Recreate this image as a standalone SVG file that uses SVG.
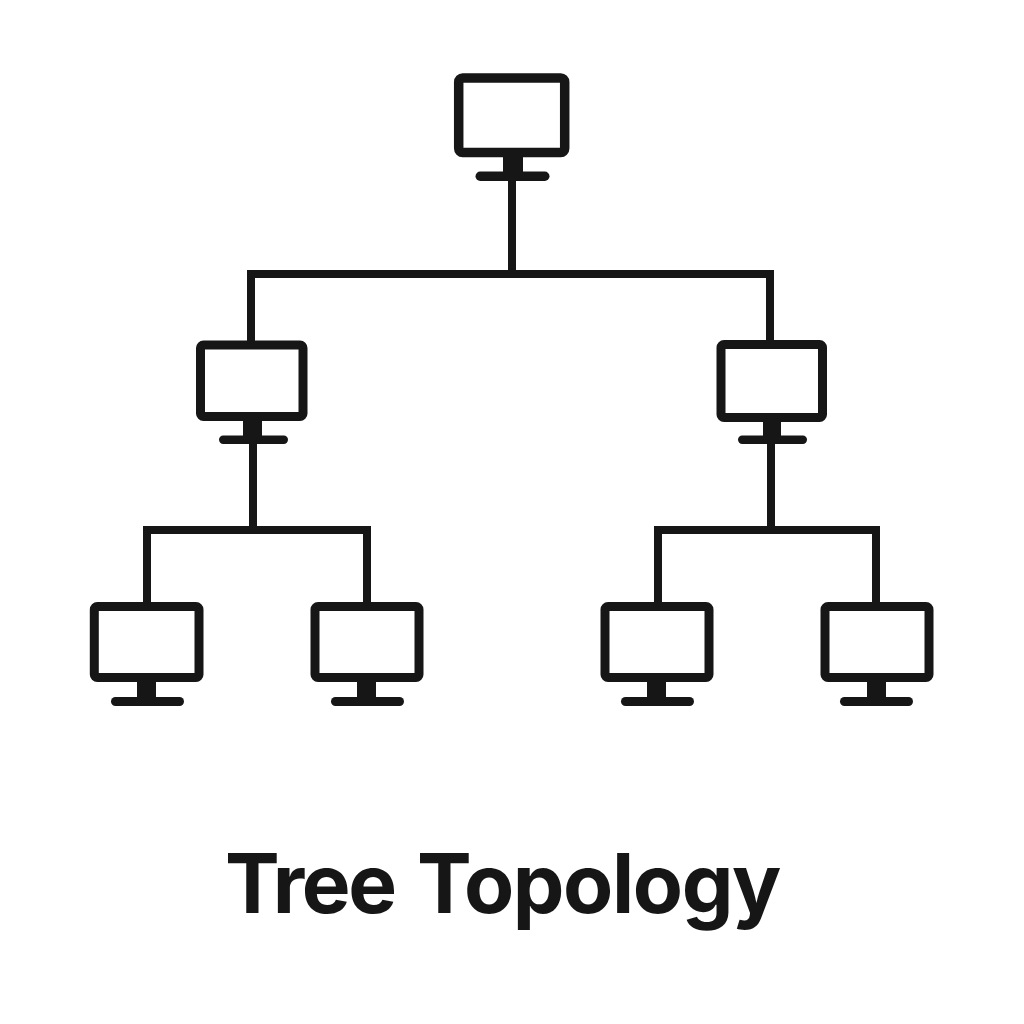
<svg xmlns="http://www.w3.org/2000/svg" width="1024" height="1024" viewBox="0 0 1024 1024">
<style>
.s{fill:#fff;stroke:#161616;stroke-width:9;stroke-linejoin:round}
.l{fill:none;stroke:#161616;stroke-width:8;stroke-linecap:square;stroke-linejoin:miter}
.b{fill:#161616;stroke:none}
text{font-family:"Inter","Liberation Sans",Arial,sans-serif;font-weight:700;font-size:82px;letter-spacing:-1.4px;fill:#161616}
</style>
<rect width="1024" height="1024" fill="#fff"/>
<g id="connectors">
<path class="l" d="M512 180V274M251 340V274H770V340"/>
<path class="l" d="M253 444V530M147 600V530H367V600"/>
<path class="l" d="M771 444V530M658 600V530H876V600"/>
</g>
<g id="root"><rect x="458.700" y="78" width="106" height="74.500" rx="4" class="s" style="stroke-width:9.500"/><rect class="b" x="503" y="156" width="20" height="18"/><rect class="b" x="475.500" y="171.500" width="74" height="9.500" rx="4.700"/></g>
<g id="mid-left"><rect class="s" x="200.500" y="345" width="102.500" height="71.500" rx="3"/><rect class="b" x="243" y="419" width="19" height="18"/><rect class="b" x="219" y="435.500" width="69" height="8.500" rx="4.200"/></g>
<g id="mid-right"><rect class="s" x="721" y="344.500" width="101.500" height="73" rx="3"/><rect class="b" x="763" y="419" width="18" height="18"/><rect class="b" x="738" y="435.500" width="69" height="8.500" rx="4.200"/></g>
<g id="leaf-1"><rect class="s" x="94.300" y="606.500" width="104.700" height="71" rx="3"/><rect class="b" x="137" y="680" width="19" height="18"/><rect class="b" x="111" y="697" width="73" height="9" rx="4.500"/></g>
<g id="leaf-2"><rect class="s" x="315" y="606.500" width="104" height="71" rx="3"/><rect class="b" x="357" y="680" width="19" height="18"/><rect class="b" x="331" y="697" width="73" height="9" rx="4.500"/></g>
<g id="leaf-3"><rect class="s" x="605" y="606.500" width="104" height="71" rx="3"/><rect class="b" x="647" y="680" width="19" height="18"/><rect class="b" x="621" y="697" width="73" height="9" rx="4.500"/></g>
<g id="leaf-4"><rect class="s" x="825" y="606.500" width="104" height="71" rx="3"/><rect class="b" x="867" y="680" width="19" height="18"/><rect class="b" x="840" y="697" width="73" height="9" rx="4.500"/></g>
<text y="913"><tspan x="225" style="letter-spacing:-2.400px">Tree </tspan><tspan x="417">Topology</tspan></text>
</svg>
